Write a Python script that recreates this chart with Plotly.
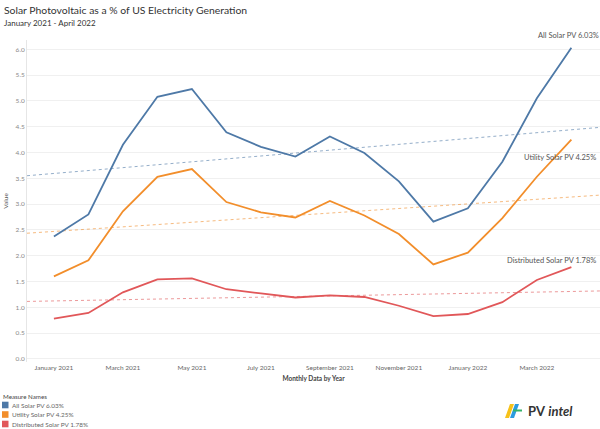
import numpy as np
import plotly.graph_objects as go

months = ["Jan 2021", "Feb 2021", "Mar 2021", "Apr 2021", "May 2021", "Jun 2021",
          "Jul 2021", "Aug 2021", "Sep 2021", "Oct 2021", "Nov 2021", "Dec 2021",
          "Jan 2022", "Feb 2022", "Mar 2022", "Apr 2022"]
all_solar = [2.37, 2.80, 4.15, 5.08, 5.23, 4.39, 4.11, 3.92, 4.31, 3.99, 3.44, 2.66, 2.92, 3.82, 5.05, 6.03]
utility_solar = [1.60, 1.91, 2.86, 3.53, 3.68, 3.04, 2.84, 2.74, 3.06, 2.78, 2.42, 1.83, 2.06, 2.73, 3.53, 4.25]
distributed_solar = [0.78, 0.89, 1.29, 1.54, 1.56, 1.35, 1.27, 1.19, 1.23, 1.20, 1.03, 0.83, 0.87, 1.10, 1.53, 1.78]
series_names = ["All Solar PV", "Utility Solar PV", "Distributed Solar PV"]
tick_labels = ["January 2021", "March 2021", "May 2021", "July 2021", "September 2021",
               "November 2021", "January 2022", "March 2022"]

colors = ["#4e79a7", "#f28e2b", "#e15759"]
series = [all_solar, utility_solar, distributed_solar]
FONT = "Lato"

W, H = 600, 429
ML, MR, MT, MB = 27, 0, 40, 67
PW, PH = W - ML - MR, H - MT - MB
def px(x):
    return (x - ML) / PW
def py(y):
    return (H - MB - y) / PH

x_idx = list(range(len(months)))
xr = [-0.78, 15.83]

fig = go.Figure()

for name, vals, c in zip(series_names, series, colors):
    slope, icpt = np.polyfit(x_idx, vals, 1)
    fig.add_trace(go.Scatter(x=xr, y=[icpt + slope * xr[0], icpt + slope * xr[1]],
                             mode="lines", line=dict(color=c, width=1, dash="dot"),
                             opacity=0.6, showlegend=False, hoverinfo="skip"))

for name, vals, c in zip(series_names, series, colors):
    fig.add_trace(go.Scatter(x=x_idx, y=vals, mode="lines",
                             line=dict(color=c, width=1.8),
                             name=f"{name} {vals[-1]:.2f}%", showlegend=False,
                             text=months))

# end labels
shifts = [(30, 12), (27, -18), (27, 7)]
for name, vals, (xs, ys) in zip(series_names, series, shifts):
    fig.add_annotation(x=x_idx[-1], y=vals[-1], xref="x", yref="y",
                       text=f"{name} {vals[-1]:.2f}%", showarrow=False,
                       xanchor="right", yanchor="middle", xshift=xs, yshift=ys,
                       font=dict(family=FONT, size=7.5, color="#555"))

# title
fig.add_annotation(x=px(2), y=py(10), xref="paper", yref="paper", xanchor="left", yanchor="middle",
                   text="Solar Photovoltaic as a % of US Electricity Generation", showarrow=False,
                   font=dict(family=FONT, size=10.4, color="#333"))
fig.add_annotation(x=px(2), y=py(23), xref="paper", yref="paper", xanchor="left", yanchor="middle",
                   text="January 2021 - April 2022", showarrow=False,
                   font=dict(family=FONT, size=8, color="#333"))

# legend
fig.add_annotation(x=px(1), y=py(396), xref="paper", yref="paper", xanchor="left", yanchor="middle",
                   text="Measure Names", showarrow=False,
                   font=dict(family=FONT, size=6.2, color="#444"))
for i, (name, vals, c) in enumerate(zip(series_names, series, colors)):
    yc = 405 + i * 9.5
    fig.add_shape(type="rect", xref="paper", yref="paper",
                  x0=px(2), x1=px(8.5), y0=py(yc - 3.3), y1=py(yc + 3.3),
                  fillcolor=c, line=dict(width=0))
    fig.add_annotation(x=px(10), y=py(yc), xref="paper", yref="paper", xanchor="left", yanchor="middle",
                       text=f"{name} {vals[-1]:.2f}%", showarrow=False,
                       font=dict(family=FONT, size=6.4, color="#666"))

# logo
fig.add_shape(type="path", xref="paper", yref="paper",
              path=f"M {px(505)},{py(418)} L {px(510)},{py(404)} L {px(514)},{py(404)} L {px(509)},{py(418)} Z",
              fillcolor="#f7c21a", line=dict(width=0))
fig.add_shape(type="path", xref="paper", yref="paper",
              path=f"M {px(510)},{py(418)} L {px(515)},{py(404)} L {px(519)},{py(404)} L {px(514)},{py(418)} Z",
              fillcolor="#2d9be0", line=dict(width=0))
fig.add_shape(type="rect", xref="paper", yref="paper",
              x0=px(513), x1=px(522), y0=py(409.5), y1=py(411.5),
              fillcolor="#34b36b", line=dict(width=0))
fig.add_annotation(x=px(526), y=py(411), xref="paper", yref="paper", xanchor="left", yanchor="middle",
                   text="<b>PV</b> <b><i>intel</i></b>", showarrow=False,
                   font=dict(family=FONT, size=13, color="#333"))

fig.update_layout(
    width=W, height=H,
    margin=dict(l=ML, r=MR, t=MT, b=MB),
    paper_bgcolor="white", plot_bgcolor="white",
    font=dict(family=FONT, color="#666"),
    xaxis=dict(range=xr, tickmode="array", tickvals=list(range(0, 16, 2)), ticktext=tick_labels,
               showgrid=False, zeroline=False, showline=False, ticks="",
               tickfont=dict(family=FONT, size=6.5, color="#666"),
               title=dict(text="<b>Monthly Data by Year</b>", standoff=6,
                          font=dict(family=FONT, size=6.5, color="#444"))),
    yaxis=dict(range=[-0.06, 6.18], tickmode="array", tickvals=[i * 0.5 for i in range(13)],
               tickformat=".1f", showgrid=True, gridcolor="#f0f0f0", gridwidth=1,
               zeroline=False, showline=True, linecolor="#e6e6e6", ticks="",
               tickfont=dict(family=FONT, size=6.5, color="#888"),
               title=dict(text="Value", standoff=6, font=dict(family=FONT, size=6.5, color="#555"))),
    hovermode="closest",
)

fig.write_html("out.html", config={"displayModeBar": False},
               post_script="document.body.style.margin='0px';document.body.style.overflow='hidden';")
